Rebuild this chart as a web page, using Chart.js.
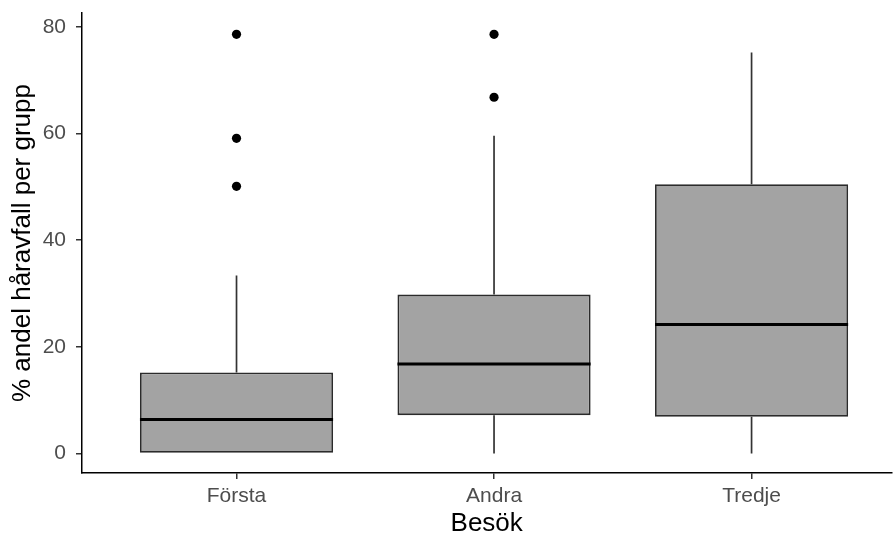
<!DOCTYPE html>
<html>
<head>
<meta charset="utf-8">
<script src="https://cdn.jsdelivr.net/npm/chart.js@4.4.0/dist/chart.umd.min.js"></script>
<style>
  html, body { margin: 0; padding: 0; background: #ffffff; }
  #wrap { width: 896px; height: 540px; }
</style>
</head>
<body>
<div id="wrap"><canvas id="c" width="896" height="540"></canvas></div>
<script>
// Hair-loss share per group at each visit (box-plot summary statistics)
const categories  = ['Första', 'Andra', 'Tredje'];
const q1          = [0, 7.2, 6.9];
const medians     = [6.4, 16.8, 24.2];
const q3          = [15.2, 29.8, 50.5];
const whiskerLow  = [0, 0, 0];
const whiskerHigh = [33.4, 59.6, 75.2];
const outliers    = [[78.6, 59.1, 50.1], [78.6, 66.8], []];
const yTicks      = [0, 20, 40, 60, 80];

// view settings
const BOX_WIDTH = 0.75;           // in category units
const X_MIN = -0.6, X_MAX = 2.543;
const Y_MIN = -3.65, Y_MAX = 82.6;

const boxData = categories.map((_, i) => ({ x: i, y: [q1[i], q3[i]] }));

const medianData = [];
categories.forEach((_, i) => {
  medianData.push({ x: i - BOX_WIDTH / 2, y: medians[i] });
  medianData.push({ x: i + BOX_WIDTH / 2, y: medians[i] });
  medianData.push({ x: i + 0.5, y: null });
});

const whiskerData = [];
categories.forEach((_, i) => {
  whiskerData.push({ x: i, y: q3[i] });
  whiskerData.push({ x: i, y: whiskerHigh[i] });
  whiskerData.push({ x: i, y: null });
  if (whiskerLow[i] < q1[i]) {
    whiskerData.push({ x: i, y: whiskerLow[i] });
    whiskerData.push({ x: i, y: q1[i] });
    whiskerData.push({ x: i, y: null });
  }
});

const outlierData = [];
outliers.forEach((vals, i) => vals.forEach(v => outlierData.push({ x: i, y: v })));

const tickFont = { family: '"Liberation Sans", Arial, sans-serif', size: 21 };
const titleFont = { family: '"Liberation Sans", Arial, sans-serif', size: 26 };

// keep the plot panel exactly where the scales are sized, without label overhang padding
const noOverhang = s => { s.paddingTop = 0; s.paddingBottom = 0; s.paddingLeft = 0; s.paddingRight = 0; };

new Chart(document.getElementById('c'), {
  type: 'bar',
  data: {
    datasets: [
      {
        type: 'line',
        data: whiskerData,
        borderColor: '#333333',
        borderWidth: 1.7,
        pointRadius: 0,
        spanGaps: false,
        order: 4
      },
      {
        type: 'bar',
        data: boxData,
        backgroundColor: '#A3A3A3',
        borderColor: '#2b2b2b',
        borderWidth: 1.8,
        borderSkipped: false,
        barPercentage: BOX_WIDTH,
        categoryPercentage: 1,
        order: 3
      },
      {
        type: 'line',
        data: medianData,
        borderColor: '#000000',
        borderWidth: 3,
        pointRadius: 0,
        spanGaps: false,
        order: 1
      },
      {
        type: 'scatter',
        data: outlierData,
        backgroundColor: '#000000',
        borderColor: '#000000',
        pointRadius: 4.6,
        borderWidth: 0,
        order: 2
      }
    ]
  },
  options: {
    responsive: false,
    animation: false,
    devicePixelRatio: 1,
    layout: { padding: { top: 13, right: 0, bottom: 0, left: 0 } },
    plugins: { legend: { display: false }, tooltip: { enabled: false } },
    scales: {
      x: {
        type: 'linear',
        min: X_MIN,
        max: X_MAX,
        offset: false,
        afterBuildTicks: s => { s.ticks = categories.map((_, i) => ({ value: i })); },
        afterFit: s => { s.height = 67; noOverhang(s); },
        grid: { offset: false, drawOnChartArea: false, drawTicks: true, tickLength: 6, color: '#333333', lineWidth: 1.5 },
        border: { display: true, color: '#000000', width: 1.5 },
        ticks: {
          color: '#4D4D4D',
          font: tickFont,
          padding: 5,
          maxRotation: 0,
          autoSkip: false,
          callback: v => categories[v] !== undefined ? categories[v] : ''
        },
        title: { display: true, text: 'Besök', color: '#000000', font: titleFont, padding: { top: 0, bottom: 1 } }
      },
      y: {
        type: 'linear',
        min: Y_MIN,
        max: Y_MAX,
        afterBuildTicks: s => { s.ticks = yTicks.map(v => ({ value: v })); },
        afterFit: s => { s.width = 82; noOverhang(s); },
        grid: { drawOnChartArea: false, drawTicks: true, tickLength: 6, color: '#333333', lineWidth: 1.5 },
        border: { display: true, color: '#000000', width: 1.5 },
        ticks: { color: '#4D4D4D', font: tickFont, padding: 10 },
        title: { display: true, text: '% andel håravfall per grupp', color: '#000000', font: titleFont, padding: { top: 7, bottom: 0 } }
      }
    }
  }
});
</script>
</body>
</html>
